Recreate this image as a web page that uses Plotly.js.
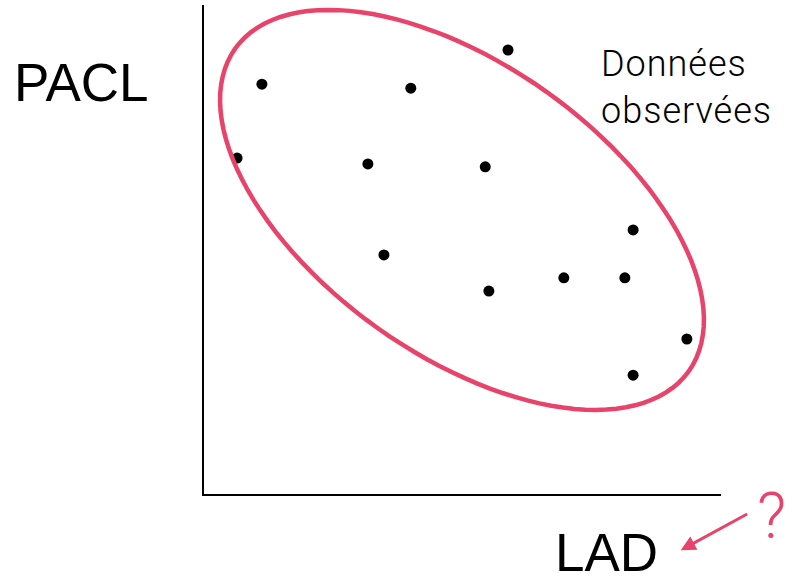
<!DOCTYPE html>
<html>
<head>
<meta charset="utf-8">
<script src="https://cdn.plot.ly/plotly-3.0.1.min.js"></script>
<style>
html,body{margin:0;padding:0;background:#fff;}
#chart{width:794px;height:577px;}
.annotation[data-index="2"] text{letter-spacing:1px;}
</style>
</head>
<body>
<div id="chart"></div>
<script>
// Observed data (arbitrary units, axes run 0..10)
const ladValues  = [1.12, 4.00, 5.88, 0.64, 3.17, 5.44, 8.30, 3.48, 5.51, 6.96, 8.14, 9.34, 8.30];
const paclValues = [8.38, 8.30, 9.08, 6.87, 6.75, 6.69, 5.40, 4.89, 4.15, 4.42, 4.42, 3.17, 2.43];

const xTitle = 'LAD';
const yTitle = 'PACL';
const groupLabel = 'Données<br>observées';
const questionMark = '?';

const accent = '#e8436a';

// Ellipse enclosing the observed data (center in axis units, semi-axes in px, tilt)
const ell = {cx: 4.99, cy: 5.81, a: 278.3, b: 145.2, phiDeg: 35.4, sx: 51.7, sy: 48.9};
function ellipsePath(e) {
  const phi = e.phiDeg * Math.PI / 180;
  let d = '';
  const n = 120;
  for (let i = 0; i <= n; i++) {
    const t = 2 * Math.PI * i / n;
    const dx = e.a * Math.cos(t) * Math.cos(phi) - e.b * Math.sin(t) * Math.sin(phi);
    const dy = e.a * Math.cos(t) * Math.sin(phi) + e.b * Math.sin(t) * Math.cos(phi);
    const x = e.cx + dx / e.sx;
    const y = e.cy - dy / e.sy;
    d += (i === 0 ? 'M' : 'L') + x.toFixed(3) + ',' + y.toFixed(3);
  }
  return d + 'Z';
}

const trace = {
  x: ladValues, y: paclValues, type: 'scatter', mode: 'markers',
  marker: {color: '#000', size: 11},
  hoverinfo: 'skip', cliponaxis: false
};

const axisCommon = {
  showgrid: false, zeroline: false, showticklabels: false, ticks: '',
  showline: true, linecolor: '#000', linewidth: 2, fixedrange: true
};

const layout = {
  width: 794, height: 577,
  margin: {l: 204, r: 73, t: 5, b: 83, pad: 0},
  paper_bgcolor: '#fff', plot_bgcolor: '#fff',
  showlegend: false,
  xaxis: Object.assign({range: [0, 10]}, axisCommon),
  yaxis: Object.assign({range: [0, 10]}, axisCommon),
  shapes: [{
    type: 'path', xref: 'x', yref: 'y', path: ellipsePath(ell),
    line: {color: accent, width: 4.5}, fillcolor: 'rgba(0,0,0,0)'
  }],
  annotations: [
    {text: yTitle, xref: 'paper', yref: 'paper', x: -0.236, y: 0.842, xanchor: 'center', yanchor: 'middle',
     showarrow: false, font: {family: 'Liberation Sans, Arial, sans-serif', size: 53, color: '#000'}},
    {text: xTitle, xref: 'paper', yref: 'paper', x: 0.7776, y: -0.12, xanchor: 'center', yanchor: 'middle',
     showarrow: false, font: {family: 'Liberation Sans, Arial, sans-serif', size: 53, color: '#000'}},
    {text: groupLabel, xref: 'paper', yref: 'paper', x: 0.925, y: 0.832, xanchor: 'center', yanchor: 'middle',
     showarrow: false, align: 'left',
     font: {family: 'Roboto, sans-serif', weight: 300, size: 36, color: '#000'}},
    {text: questionMark, xref: 'paper', yref: 'paper', x: 1.097, y: -0.045, xanchor: 'center', yanchor: 'middle',
     showarrow: false, font: {family: 'Roboto, sans-serif', weight: 300, size: 64, color: accent}},
    {text: '', xref: 'paper', yref: 'paper', x: 0.922, y: -0.115,
     axref: 'pixel', ayref: 'pixel', ax: 68, ay: -37,
     showarrow: true, arrowhead: 2, arrowsize: 1, arrowwidth: 3, arrowcolor: accent, standoff: 0}
  ]
};

Plotly.newPlot('chart', [trace], layout, {displayModeBar: false, staticPlot: true});
</script>
</body>
</html>
